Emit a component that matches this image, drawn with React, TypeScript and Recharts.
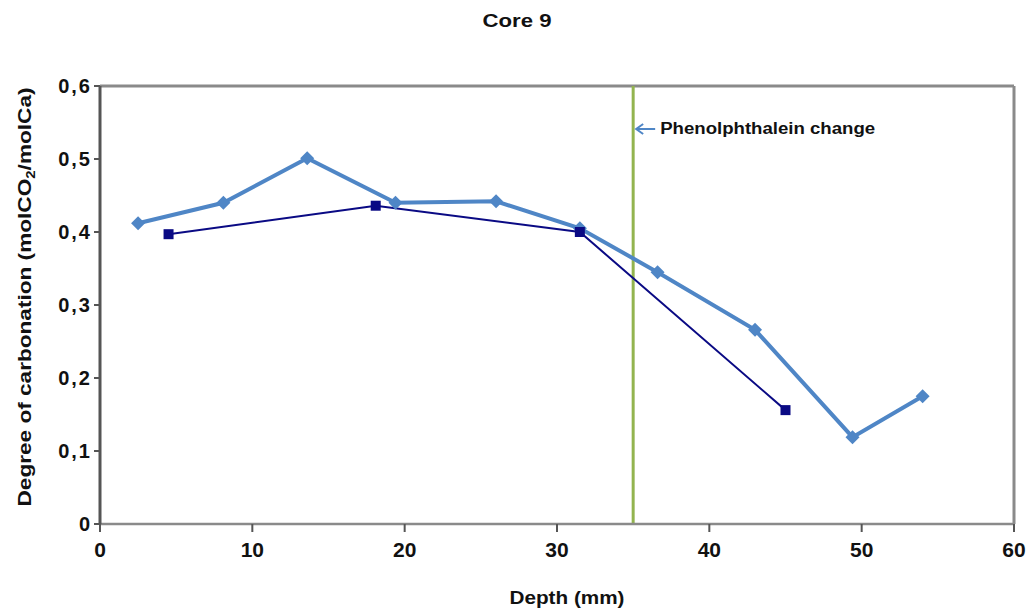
import { LineChart, Line, XAxis, YAxis, ReferenceLine } from "recharts";

const depthLight = [2.5, 8.1, 13.6, 19.4, 26.0, 31.5, 36.6, 43.0, 49.4, 54.0];
const carbLight = [0.412, 0.44, 0.501, 0.44, 0.442, 0.405, 0.345, 0.266, 0.119, 0.175];

const depthDark = [4.5, 18.1, 31.5, 45.0];
const carbDark = [0.397, 0.436, 0.4, 0.156];

const xTicks = [0, 10, 20, 30, 40, 50, 60];
const yTicks = [0, 0.1, 0.2, 0.3, 0.4, 0.5, 0.6];

const changeDepth = 35;

const lightData = depthLight.map((x, i) => ({ x, y: carbLight[i] }));
const darkData = depthDark.map((x, i) => ({ x, y: carbDark[i] }));

const FONT = "'Liberation Sans', Arial, sans-serif";
const LIGHT = "#4f86c6";
const DARK = "#0a0a84";
const GREEN = "#93b44f";
const AXIS = "#8a8a8a";

function Diamond(props: any) {
  const { cx, cy } = props;
  if (cx == null || cy == null) return null;
  const r = 7;
  return (
    <polygon
      points={`${cx},${cy - r} ${cx + r},${cy} ${cx},${cy + r} ${cx - r},${cy}`}
      fill={LIGHT}
    />
  );
}

function Square(props: any) {
  const { cx, cy } = props;
  if (cx == null || cy == null) return null;
  return <rect x={cx - 5} y={cy - 5} width={10} height={10} fill={DARK} />;
}

function YTick(props: any) {
  const { x, y, payload } = props;
  const v = payload.value;
  const label = v === 0 ? "0" : v.toFixed(1).replace(".", ",");
  return (
    <text x={x} y={y} dy={7} textAnchor="end" fontFamily={FONT} fontWeight="bold"
      fontSize={20} letterSpacing={2} fill="#111">
      {label}
    </text>
  );
}

function XTick(props: any) {
  const { x, y, payload } = props;
  return (
    <text x={x} y={y} dy={23} textAnchor="middle" fontFamily={FONT} fontWeight="bold"
      fontSize={21} fill="#111">
      {payload.value}
    </text>
  );
}

function ChangeLabel(props: any) {
  const vb = props.viewBox || {};
  const x = vb.x ?? 0;
  const y = 129;
  return (
    <g>
      <line x1={x + 3} y1={y} x2={x + 22} y2={y} stroke={LIGHT} strokeWidth={2} />
      <polyline points={`${x + 10},${y - 5} ${x + 3},${y} ${x + 10},${y + 5}`}
        fill="none" stroke={LIGHT} strokeWidth={2} />
      <text x={x + 27} y={y + 5} fontFamily={FONT} fontWeight="bold" fontSize={16}
        textLength={215} lengthAdjust="spacingAndGlyphs" fill="#111">
        Phenolphthalein change
      </text>
    </g>
  );
}

export default function App() {
  return (
    <div style={{ position: "absolute", left: 0, top: 0, width: 1032, height: 610, background: "#fff" }}>
      <LineChart width={1032} height={610} margin={{ top: 86, right: 18, bottom: 46, left: 40 }}>
        <XAxis
          type="number"
          dataKey="x"
          domain={[0, 60]}
          ticks={xTicks}
          height={40}
          stroke={AXIS}
          strokeWidth={2.5}
          tickSize={8}
          tickLine={{ stroke: "#555", strokeWidth: 2 }}
          tick={<XTick />}
          allowDataOverflow
        />
        <YAxis
          type="number"
          dataKey="y"
          domain={[0, 0.6]}
          ticks={yTicks}
          width={60}
          stroke="#555"
          strokeWidth={3}
          tickSize={6}
          tickLine={{ stroke: "#555", strokeWidth: 2 }}
          tick={<YTick />}
          allowDataOverflow
        />
        <ReferenceLine y={0.6} stroke={AXIS} strokeWidth={3} />
        <ReferenceLine x={60} stroke={AXIS} strokeWidth={3} />
        <ReferenceLine x={changeDepth} stroke={GREEN} strokeWidth={3} label={<ChangeLabel />} />
        <Line
          data={lightData}
          dataKey="y"
          stroke={LIGHT}
          strokeWidth={4}
          dot={(p: any) => <Diamond key={`d-${p.index}`} {...p} />}
          isAnimationActive={false}
        />
        <Line
          data={darkData}
          dataKey="y"
          stroke={DARK}
          strokeWidth={2}
          dot={(p: any) => <Square key={`s-${p.index}`} {...p} />}
          isAnimationActive={false}
        />
      </LineChart>
      <svg width={1032} height={610} style={{ position: "absolute", left: 0, top: 0, pointerEvents: "none" }}>
        <text x={517} y={27} textAnchor="middle" fontFamily={FONT} fontWeight="bold" fontSize={18}
          textLength={69} lengthAdjust="spacingAndGlyphs" fill="#111">
          Core 9
        </text>
        <text x={567} y={604} textAnchor="middle" fontFamily={FONT} fontWeight="bold" fontSize={19}
          textLength={115} lengthAdjust="spacingAndGlyphs" fill="#111">
          Depth (mm)
        </text>
        <text transform="translate(31,297) rotate(-90)" textAnchor="middle" fontFamily={FONT}
          fontWeight="bold" fontSize={18} textLength={419} lengthAdjust="spacingAndGlyphs" fill="#111">
          Degree of carbonation (molCO<tspan fontSize={12} dy={4}>2</tspan><tspan dy={-4}>/molCa)</tspan>
        </text>
      </svg>
    </div>
  );
}
